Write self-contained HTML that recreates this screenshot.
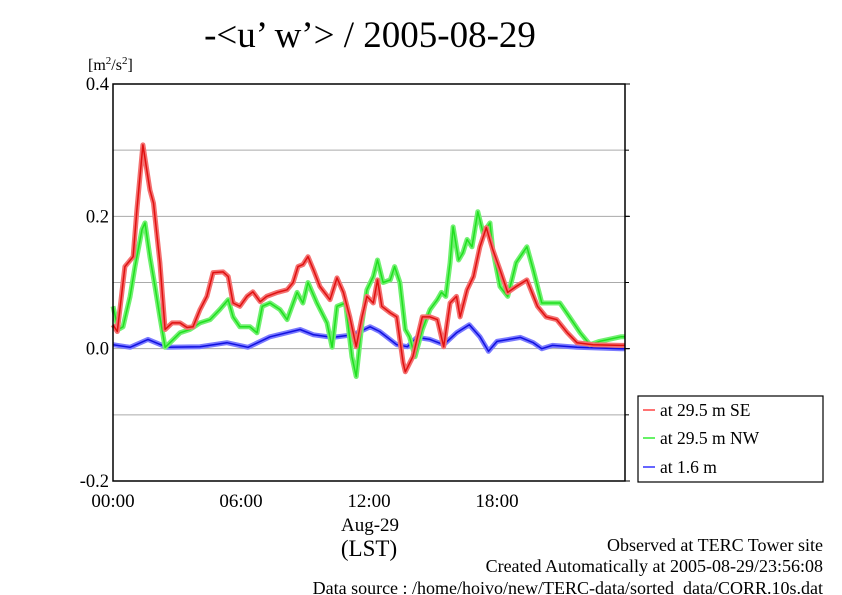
<!DOCTYPE html>
<html><head><meta charset="utf-8"><style>
body{margin:0;background:#fff;width:842px;height:595px;overflow:hidden}
svg{display:block}
text{font-family:"Liberation Serif",serif;fill:#000}
</style></head><body>
<svg id="chart" width="842" height="595">
<text x="370" y="47" font-size="37" text-anchor="middle">-&lt;u’ w’&gt; / 2005-08-29</text>
<text x="88" y="70" font-size="16">[m<tspan font-size="11" dy="-6">2</tspan><tspan dy="6">/s</tspan><tspan font-size="11" dy="-6">2</tspan><tspan dy="6">]</tspan></text>
<g id="grid"></g>
<g id="series"></g>
<rect x="113" y="84" width="512" height="397" fill="none" stroke="#000" stroke-width="1.5"/>
<g id="axes"></g>
<text x="370" y="531" font-size="19" text-anchor="middle">Aug-29</text>
<text x="369" y="556" font-size="23" text-anchor="middle">(LST)</text>
<g>
<rect x="638" y="396" width="185" height="86" fill="#fff" stroke="#000" stroke-width="1.2"/>
<line x1="643" y1="410" x2="655" y2="410" stroke="#f44" stroke-width="1.5"/>
<text x="660" y="416" font-size="17.5">at 29.5 m SE</text>
<line x1="643" y1="438" x2="655" y2="438" stroke="#3e3" stroke-width="1.5"/>
<text x="660" y="444" font-size="17.5">at 29.5 m NW</text>
<line x1="643" y1="467" x2="655" y2="467" stroke="#33f" stroke-width="1.5"/>
<text x="660" y="473" font-size="17.5">at 1.6 m</text>
</g>
<text x="823" y="551" font-size="18" text-anchor="end">Observed at TERC Tower site</text>
<text x="823" y="572" font-size="18" text-anchor="end">Created Automatically at 2005-08-29/23:56:08</text>
<text x="823" y="594" font-size="18" text-anchor="end">Data source : /home/hoivo/new/TERC-data/sorted_data/CORR.10s.dat</text>
</svg>
<script>
const yTicks=[0.4,0.2,0.0,-0.2];
const yTickLabels=["0.4","0.2","0.0","-0.2"];
const gridVals=[0.3,0.2,0.1,0.0,-0.1];
const xTicks=[0,6,12,18];
const xTickLabels=["00:00","06:00","12:00","18:00"];
const seT=[0,0.2,0.56,0.94,1.12,1.4,1.73,1.9,2.2,2.44,2.77,3.14,3.47,3.75,4.08,4.4,4.69,5.16,5.4,5.63,5.95,6.28,6.56,6.9,7.2,7.7,8.16,8.44,8.67,8.9,9.14,9.4,9.7,10.17,10.5,10.8,11.1,11.4,11.67,11.9,12.2,12.4,12.6,13,13.3,13.6,13.7,14.06,14.5,14.86,15.2,15.5,15.8,16.1,16.27,16.6,16.9,17.2,17.5,17.8,18.14,18.5,18.9,19.4,19.9,20.3,20.8,21.3,21.75,22.5,23.8,24];
const seV=[0.036,0.026,0.124,0.139,0.21,0.308,0.24,0.22,0.13,0.029,0.039,0.039,0.032,0.033,0.059,0.079,0.115,0.116,0.109,0.069,0.064,0.079,0.086,0.071,0.079,0.085,0.089,0.1,0.124,0.127,0.139,0.119,0.094,0.074,0.107,0.085,0.048,0.003,0.048,0.079,0.069,0.104,0.064,0.054,0.048,-0.021,-0.035,-0.012,0.048,0.048,0.044,0.003,0.069,0.079,0.048,0.089,0.109,0.154,0.183,0.15,0.119,0.085,0.094,0.104,0.064,0.048,0.044,0.024,0.009,0.006,0.005,0.005];
const nwT=[0,0.25,0.47,0.8,1.03,1.36,1.5,1.73,1.97,2.2,2.44,2.67,3.14,3.6,4.08,4.55,5.0,5.4,5.63,5.95,6.42,6.75,7.0,7.36,7.83,8.16,8.63,8.9,9.14,9.56,10.03,10.27,10.5,10.9,11.2,11.4,11.67,11.9,12.2,12.4,12.66,13,13.2,13.45,13.7,13.9,14.16,14.5,14.86,15.2,15.4,15.6,15.8,15.94,16.2,16.4,16.6,16.83,17.1,17.35,17.67,17.8,18.14,18.5,18.9,19.4,19.7,20.1,20.5,20.95,21.4,21.9,22.36,22.8,23.8,24];
const nwV=[0.064,0.029,0.033,0.079,0.124,0.18,0.19,0.139,0.094,0.048,0.002,0.009,0.024,0.029,0.039,0.044,0.059,0.074,0.048,0.033,0.033,0.024,0.064,0.069,0.059,0.044,0.085,0.069,0.1,0.069,0.039,0.002,0.064,0.069,-0.012,-0.042,0.039,0.089,0.109,0.134,0.1,0.104,0.124,0.1,0.029,0.018,-0.012,0.029,0.059,0.074,0.085,0.079,0.13,0.184,0.134,0.145,0.165,0.154,0.207,0.175,0.19,0.15,0.094,0.079,0.13,0.154,0.119,0.069,0.069,0.069,0.048,0.024,0.006,0.011,0.018,0.018];
const lowT=[0,0.8,1.64,2.53,4.08,5.34,6.33,7.36,8.77,9.4,10.3,11.25,12.05,12.5,13.3,13.8,14.25,14.86,15.5,16.1,16.7,17.2,17.6,18,19.1,19.7,20.1,20.6,21.75,23.8,24];
const lowV=[0.006,0.002,0.014,0.002,0.003,0.009,0.002,0.018,0.029,0.021,0.017,0.021,0.033,0.026,0.006,0.003,0.017,0.014,0.006,0.024,0.036,0.018,-0.004,0.011,0.017,0.009,0.0,0.005,0.002,0.0,0.0];
const X0=113,X1=625,Y0=84,Y1=481;
const xs=h=>X0+(X1-X0)*h/24;
const ys=v=>Y1-(Y1-Y0)*(v+0.2)/0.6;
const NS="http://www.w3.org/2000/svg";
function mk(tag,attrs,parent){const e=document.createElementNS(NS,tag);for(const k in attrs)e.setAttribute(k,attrs[k]);parent.appendChild(e);return e;}
const grid=document.getElementById('grid'),axes=document.getElementById('axes'),ser=document.getElementById('series');
gridVals.forEach(v=>{const l=mk('line',{x1:X0,x2:X1,y1:ys(v),y2:ys(v),stroke:'#aaa','stroke-width':1},grid);

});
yTicks.forEach((v,i)=>{
const t=mk('text',{x:X0-4,y:ys(v)+6,'font-size':18.5,'text-anchor':'end'},axes);t.textContent=yTickLabels[i];


mk('line',{x1:X1,x2:X1+5,y1:ys(v),y2:ys(v),stroke:'#000'},axes);});
gridVals.forEach(v=>{mk('line',{x1:X1,x2:X1+4,y1:ys(v),y2:ys(v),stroke:'#000'},axes);});
xTicks.forEach((h,i)=>{
const t=mk('text',{x:xs(h),y:507,'font-size':19,'text-anchor':'middle'},axes);t.textContent=xTickLabels[i];

});
function series(T,V,halo,core,name){
const d=T.map((t,i)=>(i?'L':'M')+xs(t).toFixed(1)+','+ys(V[i]).toFixed(1)).join('');
const g=mk('g',{},ser);


mk('path',{d:d,fill:'none',stroke:halo,'stroke-width':5,'stroke-linejoin':'round'},g);
mk('path',{d:d,fill:'none',stroke:core,'stroke-width':1.5,'stroke-linejoin':'round'},g);}
series(lowT,lowV,'#7a7aff','#1010e0','series-1-6m');
series(nwT,nwV,'#70f070','#20e020','series-29-5m-nw');
series(seT,seV,'#f47070','#e01010','series-29-5m-se');
</script>
</body></html>
